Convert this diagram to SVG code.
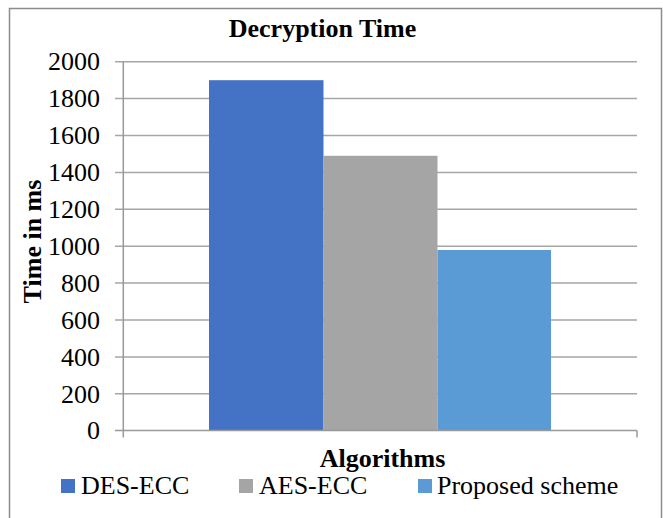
<svg xmlns="http://www.w3.org/2000/svg" width="663" height="518" viewBox="0 0 663 518">
<style>
text{font-family:"Liberation Serif","Times New Roman",serif;fill:#000}
.t{font-size:26px}
.b{font-size:26px;font-weight:bold}
.grid{stroke:#a6a6a6;stroke-width:1.5;fill:none}
.ax{stroke:#999;stroke-width:1.5;fill:none}
</style>
<rect x="0" y="0" width="663" height="518" fill="#fff"/>
<path d="M9.5,519 V8.5 H661.5 V519" fill="none" stroke="#8c8c8c" stroke-width="1.5"/>
<g id="title"><text class="b" x="322.5" y="37" text-anchor="middle">Decryption Time</text></g>
<g id="gridlines" class="grid">
<path d="M115,61.7H637M115,98.6H637M115,135.5H637M115,172.4H637M115,209.3H637M115,246.2H637M115,283.1H637M115,320H637M115,356.9H637M115,393.8H637"/>
</g>
<g id="bars">
<rect id="bar-des" x="209" y="80.2" width="114.5" height="350.3" fill="#4472C4"/>
<rect id="bar-aes" x="323.5" y="155.8" width="114" height="274.7" fill="#A5A5A5"/>
<rect id="bar-prop" x="437.5" y="250" width="113.5" height="180.5" fill="#5B9BD5"/>
</g>
<g id="axes" class="ax">
<path d="M123.3,61.7V437.5M115,430.5H637M637,430.5V437.5"/>
</g>
<g id="ytick-labels" class="t" text-anchor="end">
<text x="100" y="70.4">2000</text>
<text x="100" y="107.3">1800</text>
<text x="100" y="144.2">1600</text>
<text x="100" y="181.1">1400</text>
<text x="100" y="218">1200</text>
<text x="100" y="254.9">1000</text>
<text x="100" y="291.8">800</text>
<text x="100" y="328.7">600</text>
<text x="100" y="365.6">400</text>
<text x="100" y="402.5">200</text>
<text x="100" y="439.4">0</text>
</g>
<g id="y-title"><text class="b" x="0" y="0" text-anchor="middle" transform="translate(41,241.5) rotate(-90)">Time in ms</text></g>
<g id="x-title"><text class="b" x="382.5" y="466.5" text-anchor="middle">Algorithms</text></g>
<g id="legend" class="t">
<rect x="61" y="479" width="14" height="14" fill="#4472C4"/>
<text x="81" y="493.5">DES-ECC</text>
<rect x="239" y="479" width="14" height="14" fill="#A5A5A5"/>
<text x="259" y="493.5">AES-ECC</text>
<rect x="418" y="479" width="14" height="14" fill="#5B9BD5"/>
<text x="437" y="493.5">Proposed scheme</text>
</g>
</svg>
